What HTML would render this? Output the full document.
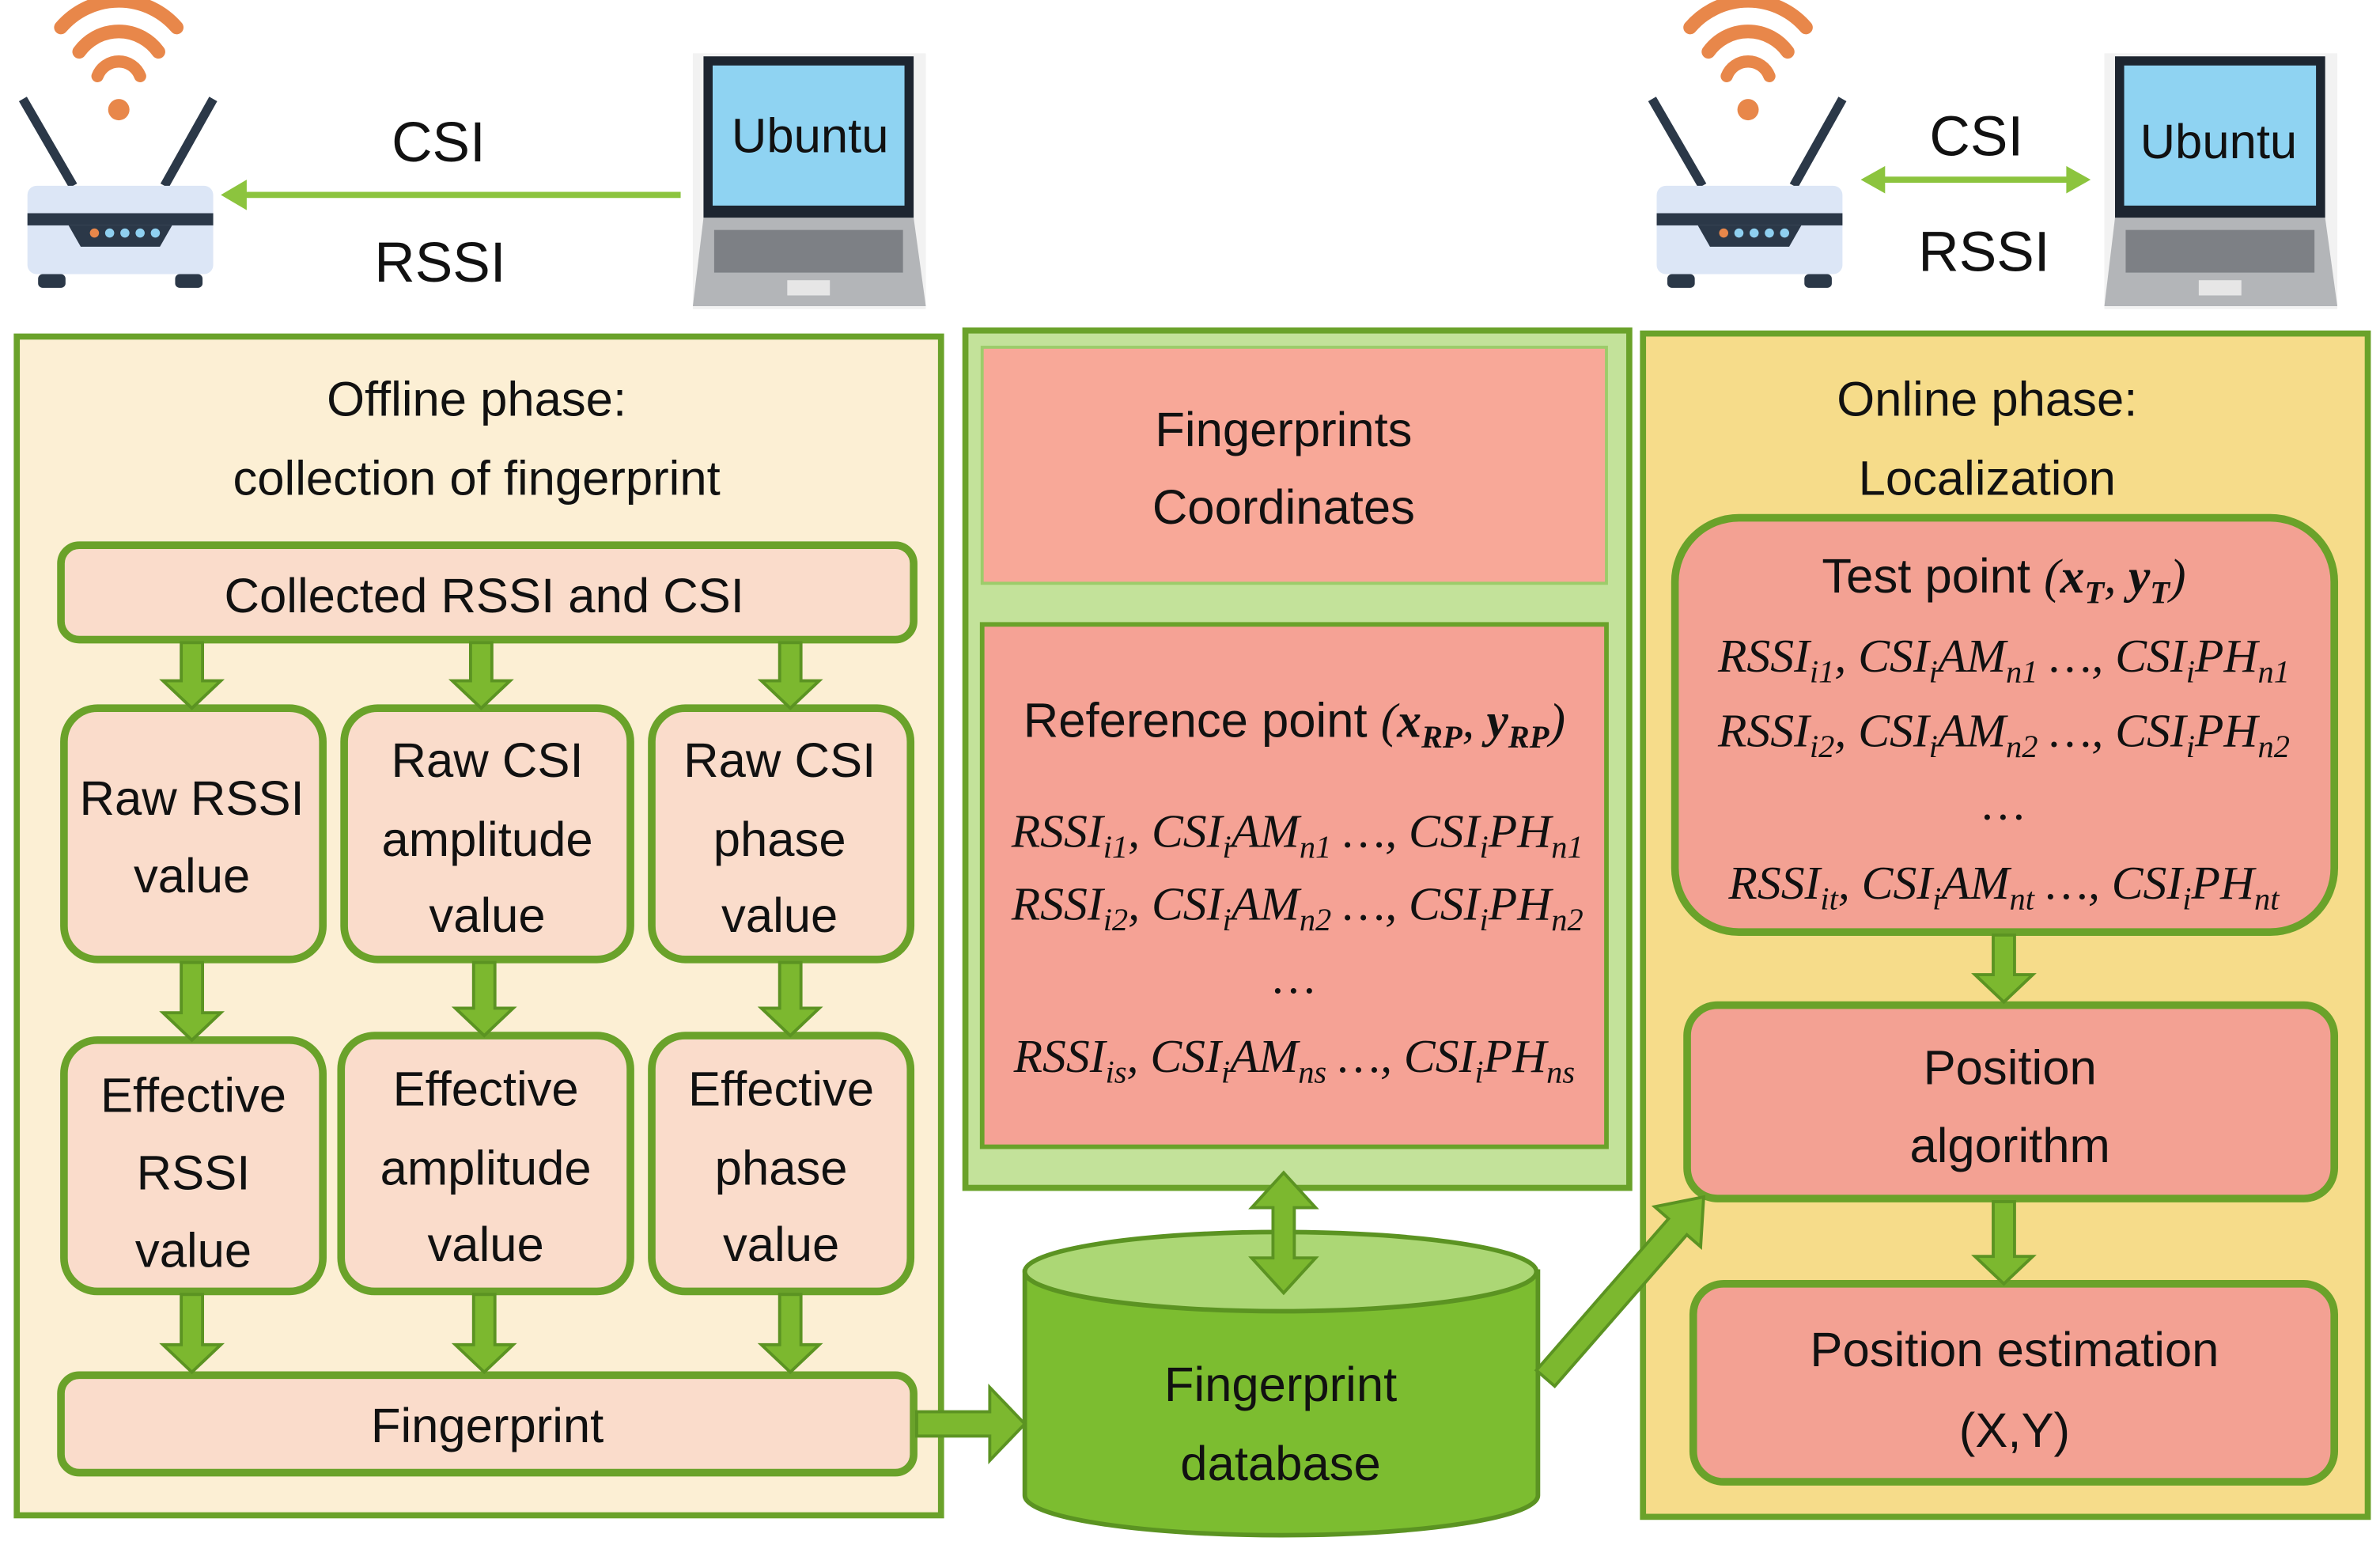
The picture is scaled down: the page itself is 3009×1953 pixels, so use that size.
<!DOCTYPE html>
<html><head><meta charset="utf-8"><style>
html,body{margin:0;padding:0;background:#fff}
svg{display:block}
.t{font-family:"Liberation Sans Narrow","Liberation Sans",sans-serif;font-size:32px;fill:#111;text-anchor:middle}
.m{font-family:"Liberation Serif",serif;font-style:italic;font-size:31px;fill:#111;text-anchor:middle}
.s{font-size:21px}
.ar{fill:#7cb82f;stroke:#5b9322;stroke-width:2}
</style></head><body>
<svg width="3009" height="1953" viewBox="0 0 1563 1014.5" xmlns="http://www.w3.org/2000/svg">
<defs>
<g id="router">
 <path d="M40 18 a50 50 0 0 1 76 0" fill="none" stroke="#e8874a" stroke-width="9" stroke-linecap="round"/>
 <path d="M52 34 a32 32 0 0 1 52 0" fill="none" stroke="#e8874a" stroke-width="9" stroke-linecap="round"/>
 <path d="M64 50 a15 15 0 0 1 28 0" fill="none" stroke="#e8874a" stroke-width="8" stroke-linecap="round"/>
 <circle cx="78" cy="72" r="7" fill="#e8874a"/>
 <line x1="15" y1="65" x2="48" y2="122" stroke="#2b3848" stroke-width="6"/>
 <line x1="140" y1="65" x2="108" y2="122" stroke="#2b3848" stroke-width="6"/>
 <rect x="18" y="122" width="122" height="58" rx="6" fill="#dce6f6"/>
 <rect x="18" y="140" width="122" height="8" fill="#2b3848"/>
 <path d="M45 148 h68 l-8 14 h-52 z" fill="#2b3848"/>
 <circle cx="62" cy="153" r="3" fill="#e8874a"/><circle cx="72" cy="153" r="3" fill="#8fd0f0"/><circle cx="82" cy="153" r="3" fill="#8fd0f0"/><circle cx="92" cy="153" r="3" fill="#8fd0f0"/><circle cx="102" cy="153" r="3" fill="#8fd0f0"/>
 <rect x="25" y="180" width="18" height="9" rx="3" fill="#2b3848"/><rect x="115" y="180" width="18" height="9" rx="3" fill="#2b3848"/>
</g>
<g id="laptop">
 <rect x="0" y="0" width="153" height="168" fill="#f2f2f2"/>
 <rect x="7" y="2" width="138" height="106" fill="#1d2530"/>
 <rect x="13" y="8" width="126" height="92" fill="#8fd3f2"/>
 <path d="M7 108 h138 l8 58 h-153 z" fill="#b3b5b8"/>
 <rect x="14" y="116" width="124" height="28" fill="#7d8085"/>
 <rect x="62" y="149" width="28" height="10" fill="#e6e6e6"/>
</g>
</defs>

<use href="#router" x="0" y="0"/>
<use href="#laptop" x="455" y="35"/>
<text class="t" x="532" y="100" style="font-size:32px">Ubuntu</text>
<text class="t" x="288" y="106" style="font-size:37px">CSI</text>
<text class="t" x="289" y="185" style="font-size:37px">RSSI</text>
<line x1="447" y1="128" x2="158" y2="128" stroke="#8cc43e" stroke-width="4"/>
<path d="M145 128 L162 118 L162 138 Z" fill="#8cc43e"/>

<use href="#router" x="1070" y="0"/>
<use href="#laptop" x="1382" y="35"/>
<text class="t" x="1457" y="104" style="font-size:32px">Ubuntu</text>
<text class="t" x="1298" y="102" style="font-size:37px">CSI</text>
<text class="t" x="1303" y="178" style="font-size:37px">RSSI</text>
<line x1="1235" y1="118" x2="1360" y2="118" stroke="#8cc43e" stroke-width="4"/>
<path d="M1222 118 L1238 109 L1238 127 Z M1373 118 L1357 109 L1357 127 Z" fill="#8cc43e"/>

<rect x="11" y="221" width="607" height="774" fill="#fcefd4" stroke="#6aa22a" stroke-width="4"/>
<text class="t" x="313" y="273">Offline phase:</text>
<text class="t" x="313" y="325">collection of fingerprint</text>
<rect x="40" y="358" width="560" height="62" rx="12" fill="#fadccb" stroke="#6aa22a" stroke-width="5"/>
<text class="t" x="318" y="402">Collected RSSI and CSI</text>

<rect x="42" y="465" width="170" height="165" rx="22" fill="#fadccb" stroke="#6aa22a" stroke-width="5"/>
<rect x="226" y="465" width="188" height="165" rx="22" fill="#fadccb" stroke="#6aa22a" stroke-width="5"/>
<rect x="428" y="465" width="170" height="165" rx="22" fill="#fadccb" stroke="#6aa22a" stroke-width="5"/>
<text class="t" x="126" y="535">Raw RSSI</text><text class="t" x="126" y="586">value</text>
<text class="t" x="320" y="510">Raw CSI</text><text class="t" x="320" y="562">amplitude</text><text class="t" x="320" y="612">value</text>
<text class="t" x="512" y="510">Raw CSI</text><text class="t" x="512" y="562">phase</text><text class="t" x="512" y="612">value</text>

<rect x="42" y="683" width="170" height="165" rx="22" fill="#fadccb" stroke="#6aa22a" stroke-width="5"/>
<rect x="224" y="680" width="190" height="168" rx="22" fill="#fadccb" stroke="#6aa22a" stroke-width="5"/>
<rect x="428" y="680" width="170" height="168" rx="22" fill="#fadccb" stroke="#6aa22a" stroke-width="5"/>
<text class="t" x="127" y="730">Effective</text><text class="t" x="127" y="781">RSSI</text><text class="t" x="127" y="832">value</text>
<text class="t" x="319" y="726">Effective</text><text class="t" x="319" y="778">amplitude</text><text class="t" x="319" y="828">value</text>
<text class="t" x="513" y="726">Effective</text><text class="t" x="513" y="778">phase</text><text class="t" x="513" y="828">value</text>

<rect x="40" y="903" width="560" height="64" rx="12" fill="#fadccb" stroke="#6aa22a" stroke-width="5"/>
<text class="t" x="320" y="947">Fingerprint</text>

<rect x="634" y="217" width="436" height="563" fill="#c3e29a" stroke="#6aa22a" stroke-width="4"/>
<rect x="645" y="228" width="410" height="155" fill="#f8a898" stroke="#9ccc6a" stroke-width="2"/>
<text class="t" x="843" y="293">Fingerprints</text>
<text class="t" x="843" y="344">Coordinates</text>
<rect x="645" y="410" width="410" height="343" fill="#f5a295" stroke="#6aa22a" stroke-width="3"/>
<text class="t" x="850" y="484" style="font-size:32px">Reference point <tspan class="m" style="font-size:32px">(<tspan font-weight="bold">x</tspan><tspan class="s" dy="7" font-weight="bold">RP</tspan><tspan dy="-7">, </tspan><tspan font-weight="bold">y</tspan><tspan class="s" dy="7" font-weight="bold">RP</tspan><tspan dy="-7">)</tspan></tspan></text>
<text class="m" x="852" y="556">RSSI<tspan class="s" dy="7">i1</tspan><tspan dy="-7">, CSI</tspan><tspan class="s" dy="7">i</tspan><tspan dy="-7">AM</tspan><tspan class="s" dy="7">n1</tspan><tspan dy="-7"> …, CSI</tspan><tspan class="s" dy="7">i</tspan><tspan dy="-7">PH</tspan><tspan class="s" dy="7">n1</tspan></text>
<text class="m" x="852" y="604">RSSI<tspan class="s" dy="7">i2</tspan><tspan dy="-7">, CSI</tspan><tspan class="s" dy="7">i</tspan><tspan dy="-7">AM</tspan><tspan class="s" dy="7">n2</tspan><tspan dy="-7"> …, CSI</tspan><tspan class="s" dy="7">i</tspan><tspan dy="-7">PH</tspan><tspan class="s" dy="7">n2</tspan></text>
<text class="m" x="850" y="652">…</text>
<text class="m" x="850" y="704">RSSI<tspan class="s" dy="7">is</tspan><tspan dy="-7">, CSI</tspan><tspan class="s" dy="7">i</tspan><tspan dy="-7">AM</tspan><tspan class="s" dy="7">ns</tspan><tspan dy="-7"> …, CSI</tspan><tspan class="s" dy="7">i</tspan><tspan dy="-7">PH</tspan><tspan class="s" dy="7">ns</tspan></text>

<path d="M673 835 L673 982 A168 26 0 0 0 1010 982 L1010 835 Z" fill="#7cbd30" stroke="#5b9322" stroke-width="3"/>
<ellipse cx="841" cy="835" rx="168" ry="26" fill="#acd775" stroke="#5b9322" stroke-width="3"/>
<text class="t" x="841" y="920">Fingerprint</text>
<text class="t" x="841" y="972">database</text>

<rect x="1079" y="219" width="476" height="777" fill="#f6dc8a" stroke="#6aa22a" stroke-width="4"/>
<text class="t" x="1305" y="273">Online phase:</text>
<text class="t" x="1305" y="325">Localization</text>
<rect x="1100" y="340" width="433" height="272" rx="42" fill="#f3a193" stroke="#6aa22a" stroke-width="5"/>
<text class="t" x="1316" y="389" style="font-size:32px">Test point <tspan class="m" style="font-size:32px">(<tspan font-weight="bold">x</tspan><tspan class="s" dy="7" font-weight="bold">T</tspan><tspan dy="-7">, </tspan><tspan font-weight="bold">y</tspan><tspan class="s" dy="7" font-weight="bold">T</tspan><tspan dy="-7">)</tspan></tspan></text>
<text class="m" x="1316" y="441">RSSI<tspan class="s" dy="7">i1</tspan><tspan dy="-7">, CSI</tspan><tspan class="s" dy="7">i</tspan><tspan dy="-7">AM</tspan><tspan class="s" dy="7">n1</tspan><tspan dy="-7"> …, CSI</tspan><tspan class="s" dy="7">i</tspan><tspan dy="-7">PH</tspan><tspan class="s" dy="7">n1</tspan></text>
<text class="m" x="1316" y="490">RSSI<tspan class="s" dy="7">i2</tspan><tspan dy="-7">, CSI</tspan><tspan class="s" dy="7">i</tspan><tspan dy="-7">AM</tspan><tspan class="s" dy="7">n2</tspan><tspan dy="-7"> …, CSI</tspan><tspan class="s" dy="7">i</tspan><tspan dy="-7">PH</tspan><tspan class="s" dy="7">n2</tspan></text>
<text class="m" x="1316" y="538">…</text>
<text class="m" x="1316" y="590">RSSI<tspan class="s" dy="7">it</tspan><tspan dy="-7">, CSI</tspan><tspan class="s" dy="7">i</tspan><tspan dy="-7">AM</tspan><tspan class="s" dy="7">nt</tspan><tspan dy="-7"> …, CSI</tspan><tspan class="s" dy="7">i</tspan><tspan dy="-7">PH</tspan><tspan class="s" dy="7">nt</tspan></text>

<rect x="1108" y="660" width="425" height="127" rx="20" fill="#f3a193" stroke="#6aa22a" stroke-width="5"/>
<text class="t" x="1320" y="712">Position</text>
<text class="t" x="1320" y="763">algorithm</text>
<rect x="1112" y="843" width="421" height="130" rx="20" fill="#f3a193" stroke="#6aa22a" stroke-width="5"/>
<text class="t" x="1323" y="897">Position estimation</text>
<text class="t" x="1323" y="950">(X,Y)</text>

<g class="ar">
<path d="M119 422 h14 v25 h12 l-19 18 l-19 -18 h12 z"/>
<path d="M309 422 h14 v25 h12 l-19 18 l-19 -18 h12 z"/>
<path d="M512 422 h14 v25 h12 l-19 18 l-19 -18 h12 z"/>
<path d="M119 632 h14 v33 h12 l-19 18 l-19 -18 h12 z"/>
<path d="M311 632 h14 v30 h12 l-19 18 l-19 -18 h12 z"/>
<path d="M512 632 h14 v30 h12 l-19 18 l-19 -18 h12 z"/>
<path d="M119 850 h14 v33 h12 l-19 18 l-19 -18 h12 z"/>
<path d="M311 850 h14 v33 h12 l-19 18 l-19 -18 h12 z"/>
<path d="M512 850 h14 v33 h12 l-19 18 l-19 -18 h12 z"/>
<path d="M1309 614 h14 v26 h12 l-19 18 l-19 -18 h12 z"/>
<path d="M1309 789 h14 v36 h12 l-19 18 l-19 -18 h12 z"/>
<path d="M602 927 L650 927 L650 911 L673 935 L650 959 L650 943 L602 943 Z"/>
<path d="M836 793 L822 793 L843 770 L864 793 L850 793 L850 826 L864 826 L843 849 L822 826 L836 826 Z"/>
<g transform="translate(1015,905) rotate(-48.9)"><path d="M0 -8 L132 -8 L132 -20 L158 0 L132 20 L132 8 L0 8 Z"/></g>
</g>
</svg>
</body></html>
